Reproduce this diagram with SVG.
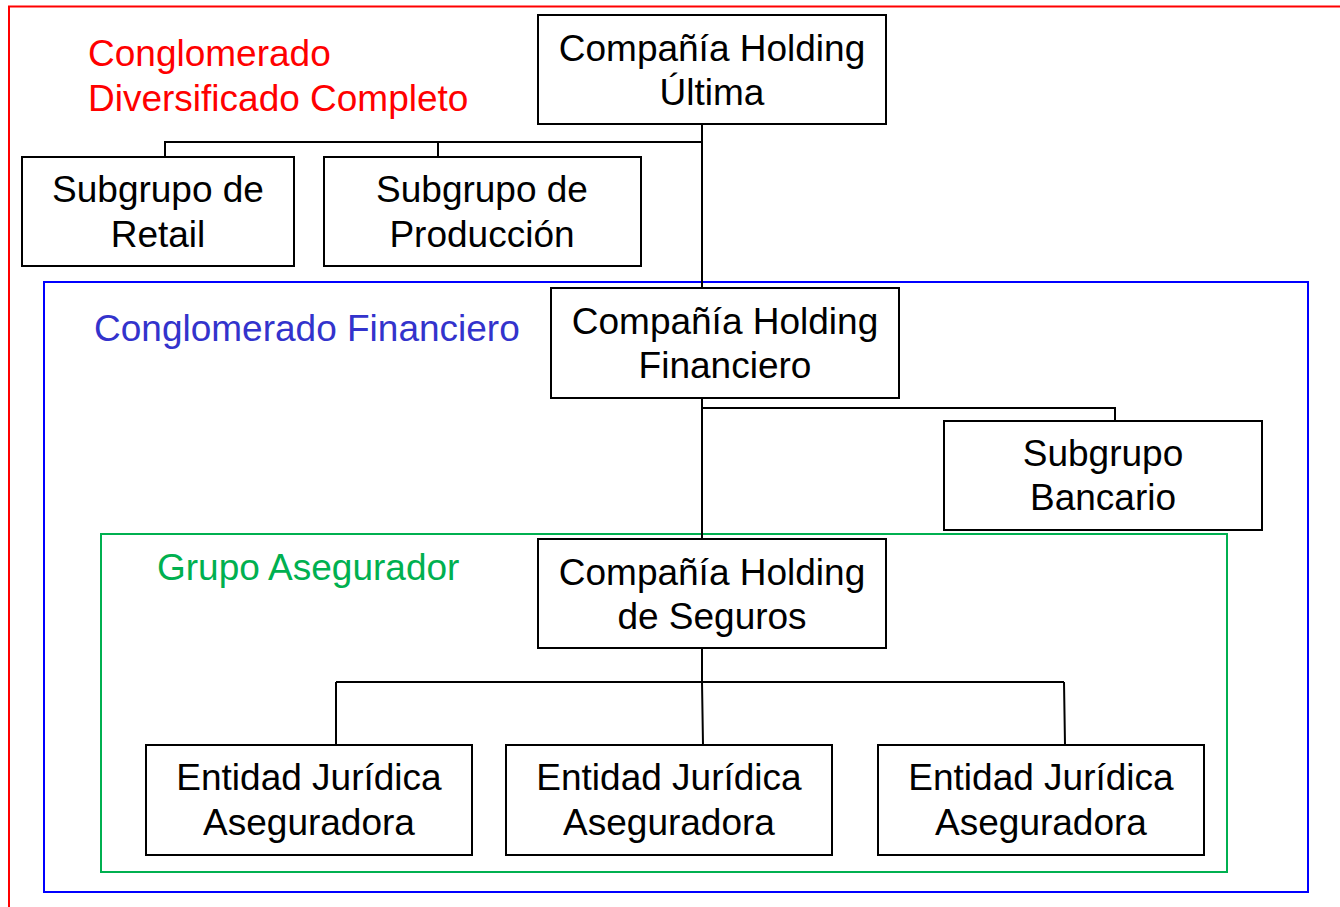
<svg xmlns="http://www.w3.org/2000/svg" width="1340" height="907" viewBox="0 0 1340 907">
<style>
.box{fill:#fff;stroke:#000;stroke-width:2}
.t{font-family:"Liberation Sans",Arial,sans-serif;font-size:37px;fill:#000;text-anchor:middle}
.lbl{font-family:"Liberation Sans",Arial,sans-serif;font-size:37px}
.c{fill:none;stroke:#000;stroke-width:2}
</style>
<rect width="1340" height="907" fill="#fff"/>
<g id="conglomerado-diversificado">
<rect x="9" y="6.5" width="1345" height="920" fill="none" stroke="#ff0000" stroke-width="2"/>
<text class="lbl" fill="#ff0000" x="88" y="66">Conglomerado</text>
<text class="lbl" fill="#ff0000" x="88" y="111">Diversificado Completo</text>
</g>
<g id="conglomerado-financiero">
<rect x="44" y="282" width="1264" height="610" fill="none" stroke="#0000ff" stroke-width="2"/>
<text class="lbl" fill="#3333cc" x="94" y="341">Conglomerado Financiero</text>
</g>
<g id="grupo-asegurador">
<rect x="101" y="534" width="1126" height="338" fill="none" stroke="#00b050" stroke-width="2"/>
<text class="lbl" fill="#00b050" x="157" y="580">Grupo Asegurador</text>
</g>
<g id="connectors">
<path class="c" d="M702 124V288M702 142H165V157M438 142V157"/>
<path class="c" d="M702 398V539M702 408H1115V421"/>
<path class="c" d="M702 648V682M336 682H1064M336 682V745M702 682L703 745M1064 682L1065 745"/>
</g>
<g id="holding-ultima">
<rect class="box" x="538" y="15" width="348" height="109"/>
<text class="t" x="712" y="61">Compañía Holding</text>
<text class="t" x="712" y="105">Última</text>
</g>
<g id="subgrupo-retail">
<rect class="box" x="22" y="157" width="272" height="109"/>
<text class="t" x="158" y="202">Subgrupo de</text>
<text class="t" x="158" y="247">Retail</text>
</g>
<g id="subgrupo-produccion">
<rect class="box" x="324" y="157" width="317" height="109"/>
<text class="t" x="482" y="202">Subgrupo de</text>
<text class="t" x="482" y="247">Producción</text>
</g>
<g id="holding-financiero">
<rect class="box" x="551" y="288" width="348" height="110"/>
<text class="t" x="725" y="334">Compañía Holding</text>
<text class="t" x="725" y="378">Financiero</text>
</g>
<g id="subgrupo-bancario">
<rect class="box" x="944" y="421" width="318" height="109"/>
<text class="t" x="1103" y="466">Subgrupo</text>
<text class="t" x="1103" y="510">Bancario</text>
</g>
<g id="holding-seguros">
<rect class="box" x="538" y="539" width="348" height="109"/>
<text class="t" x="712" y="585">Compañía Holding</text>
<text class="t" x="712" y="629">de Seguros</text>
</g>
<g id="entidad-1">
<rect class="box" x="146" y="745" width="326" height="110"/>
<text class="t" x="309" y="790">Entidad Jurídica</text>
<text class="t" x="309" y="835">Aseguradora</text>
</g>
<g id="entidad-2">
<rect class="box" x="506" y="745" width="326" height="110"/>
<text class="t" x="669" y="790">Entidad Jurídica</text>
<text class="t" x="669" y="835">Aseguradora</text>
</g>
<g id="entidad-3">
<rect class="box" x="878" y="745" width="326" height="110"/>
<text class="t" x="1041" y="790">Entidad Jurídica</text>
<text class="t" x="1041" y="835">Aseguradora</text>
</g>
</svg>
